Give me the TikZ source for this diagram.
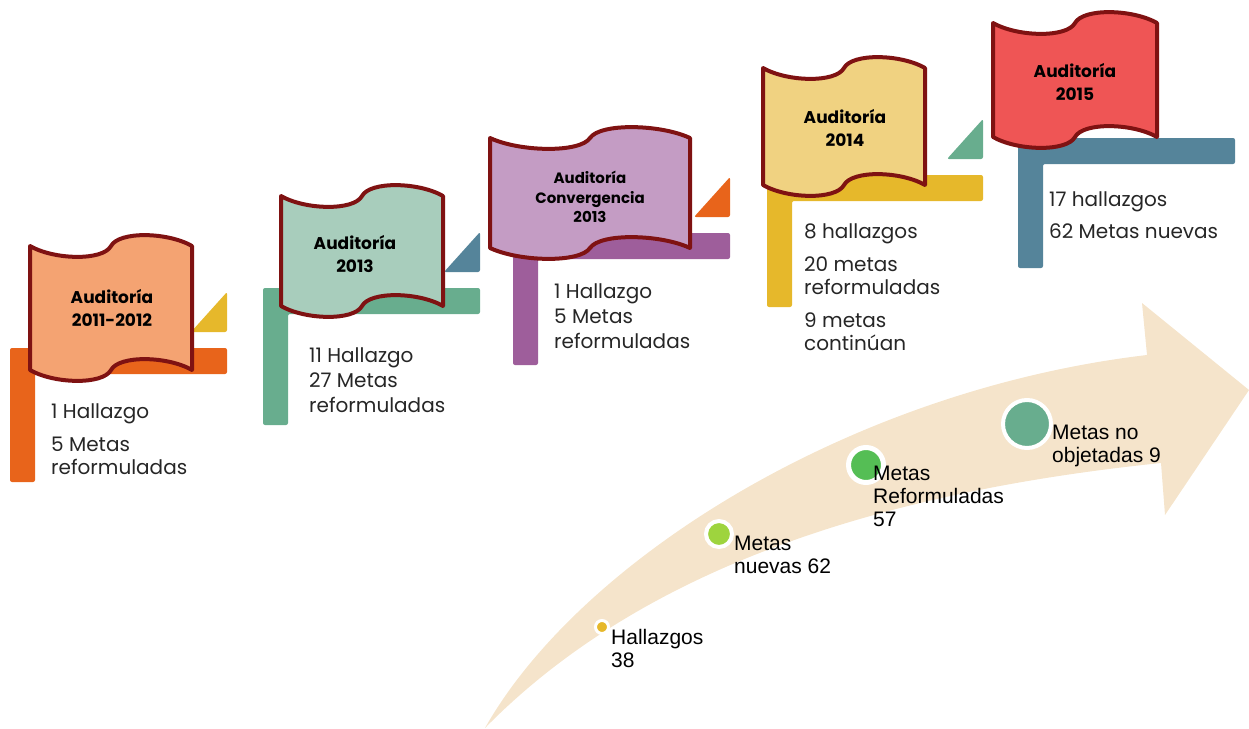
\documentclass[tikz,border=0pt]{standalone}
\usepackage{fontspec}
\setmainfont{Poppins}
\newfontfamily\arialfont{Liberation Sans}
\usepackage{xcolor}
\definecolor{borde}{HTML}{7F1212}
\definecolor{f1}{HTML}{F4A372}
\definecolor{f2}{HTML}{A8CDBC}
\definecolor{f3}{HTML}{C49CC4}
\definecolor{f4}{HTML}{F0D281}
\definecolor{f5}{HTML}{EF5555}
\definecolor{p1}{HTML}{E8641B}
\definecolor{p2}{HTML}{68AD8E}
\definecolor{p3}{HTML}{9E5E9B}
\definecolor{p4}{HTML}{E6B82B}
\definecolor{p5}{HTML}{55849A}
\definecolor{flecha}{HTML}{F5E4CB}
\definecolor{lima}{HTML}{9ED43E}
\definecolor{verde}{HTML}{55BE55}
\definecolor{txt}{HTML}{262626}
\tikzset{
	bandera/.style={draw=borde,line width=4pt,line join=round,line cap=round},
	titulo/.style={align=center,inner sep=0pt,font=\bfseries\fontsize{17}{23}\selectfont},
	lista/.style={anchor=north west,inner sep=0pt,align=left,text=txt,font=\fontsize{20}{23}\selectfont},
	etiqueta/.style={anchor=north west,inner sep=0pt,align=left,font=\arialfont\fontsize{21}{23}\selectfont},
	punto/.style={circle,draw=white,inner sep=0pt},
}

\begin{document}
\begin{tikzpicture}[x=1pt,y=-1pt,declare function={a=10;}]
		\useasboundingbox (0,0) rectangle (1249,728);
		\fill[flecha] (485,728) .. controls (580,560) and (850,390) .. (1147,355) -- (1142,303) -- (1249,390) -- (1165,515) -- (1161,463) .. controls (900,490) and (650,560) .. (485,728) -- cycle;
		\foreach \px/\py/\pr/\pb/\cp in {10/348/227/482/p1,263/288/480/425/p2,513/233/730/365/p3,767/175/983/307/p4,1018/138/1235/268/p5}{
			\fill[\cp,rounded corners=2pt] (\px,\py) -- (\pr,\py) -- (\pr,{\py+26}) -- ({\px+25},{\py+26}) -- ({\px+25},\pb) -- (\px,\pb) -- cycle;
		}
		\foreach \pr/\py/\ct in {227/348/p4,480/288/p5,730/233/p1,983/175/p2}{
			\fill[\ct,rounded corners=2pt] ({\pr-36},{\py-16}) -- (\pr,{\py-56}) -- (\pr,{\py-16}) -- cycle;
		}
		\foreach \L/\T/\W/\B/\cf in {30/246/162/370/f1,281/196/162/306/f2,490/138/200/248/f3,763/68/162/185/f4,993/23/164/137/f5}{
			\filldraw[bandera,fill=\cf] (\L,\T) .. controls ({\L+.15*\W},{\T+1.4*a}) and ({\L+.45*\W},{\T+1.5*a}) .. ({\L+.5*\W},\T)
				.. controls ({\L+.55*\W},{\T-1.5*a}) and ({\L+.85*\W},{\T-1.4*a}) .. ({\L+\W},\T) -- ({\L+\W},\B)
				.. controls ({\L+.85*\W},{\B-1.4*a}) and ({\L+.55*\W},{\B-1.5*a}) .. ({\L+.5*\W},\B)
				.. controls ({\L+.45*\W},{\B+1.5*a}) and ({\L+.15*\W},{\B+1.4*a}) .. (\L,\B) -- cycle;
		}
		\node[titulo] (t1) at (112,308) {Auditoría\\2011-2012};
		\node[titulo] (t2) at (355,254) {Auditoría\\2013};
		\node[titulo,font=\bfseries\fontsize{15}{19.5}\selectfont] (t3) at (590,197) {Auditoría\\Convergencia\\2013};
		\node[titulo] (t4) at (845,128) {Auditoría\\2014};
		\node[titulo] (t5) at (1075,82) {Auditoría\\2015};
		\node[lista] (l1) at (51,403) {1 Hallazgo\\[10pt]5 Metas\\reformuladas};
		\node[lista] (l2) at (309,347) {11 Hallazgo\\[2pt]27 Metas\\[2pt]reformuladas};
		\node[lista] (l3) at (554,283) {1 Hallazgo\\[2pt]5 Metas\\[2pt]reformuladas};
		\node[lista] (l4) at (804,223) {8 hallazgos\\[10pt]20 metas\\reformuladas\\[10pt]9 metas\\continúan};
		\node[lista] (l5) at (1049,191) {17 hallazgos\\[9pt]62 Metas nuevas};
		\node[punto,fill=p4,minimum size=13pt,line width=3pt] (d1) at (602,627) {};
		\node[punto,fill=lima,minimum size=26pt,line width=4pt] (d2) at (719,534) {};
		\node[punto,fill=verde,minimum size=35pt,line width=5pt] (d3) at (866,465) {};
		\node[punto,fill=p2,minimum size=48pt,line width=4pt] (d4) at (1027,424) {};
		\node[etiqueta] (e1) at (611,629) {Hallazgos\\38};
		\node[etiqueta] (e2) at (734,536) {Metas\\nuevas 62};
		\node[etiqueta] (e3) at (873,466) {Metas\\Reformuladas\\57};
		\node[etiqueta] (e4) at (1052,425) {Metas no\\objetadas 9};
	\end{tikzpicture}
\end{document}
